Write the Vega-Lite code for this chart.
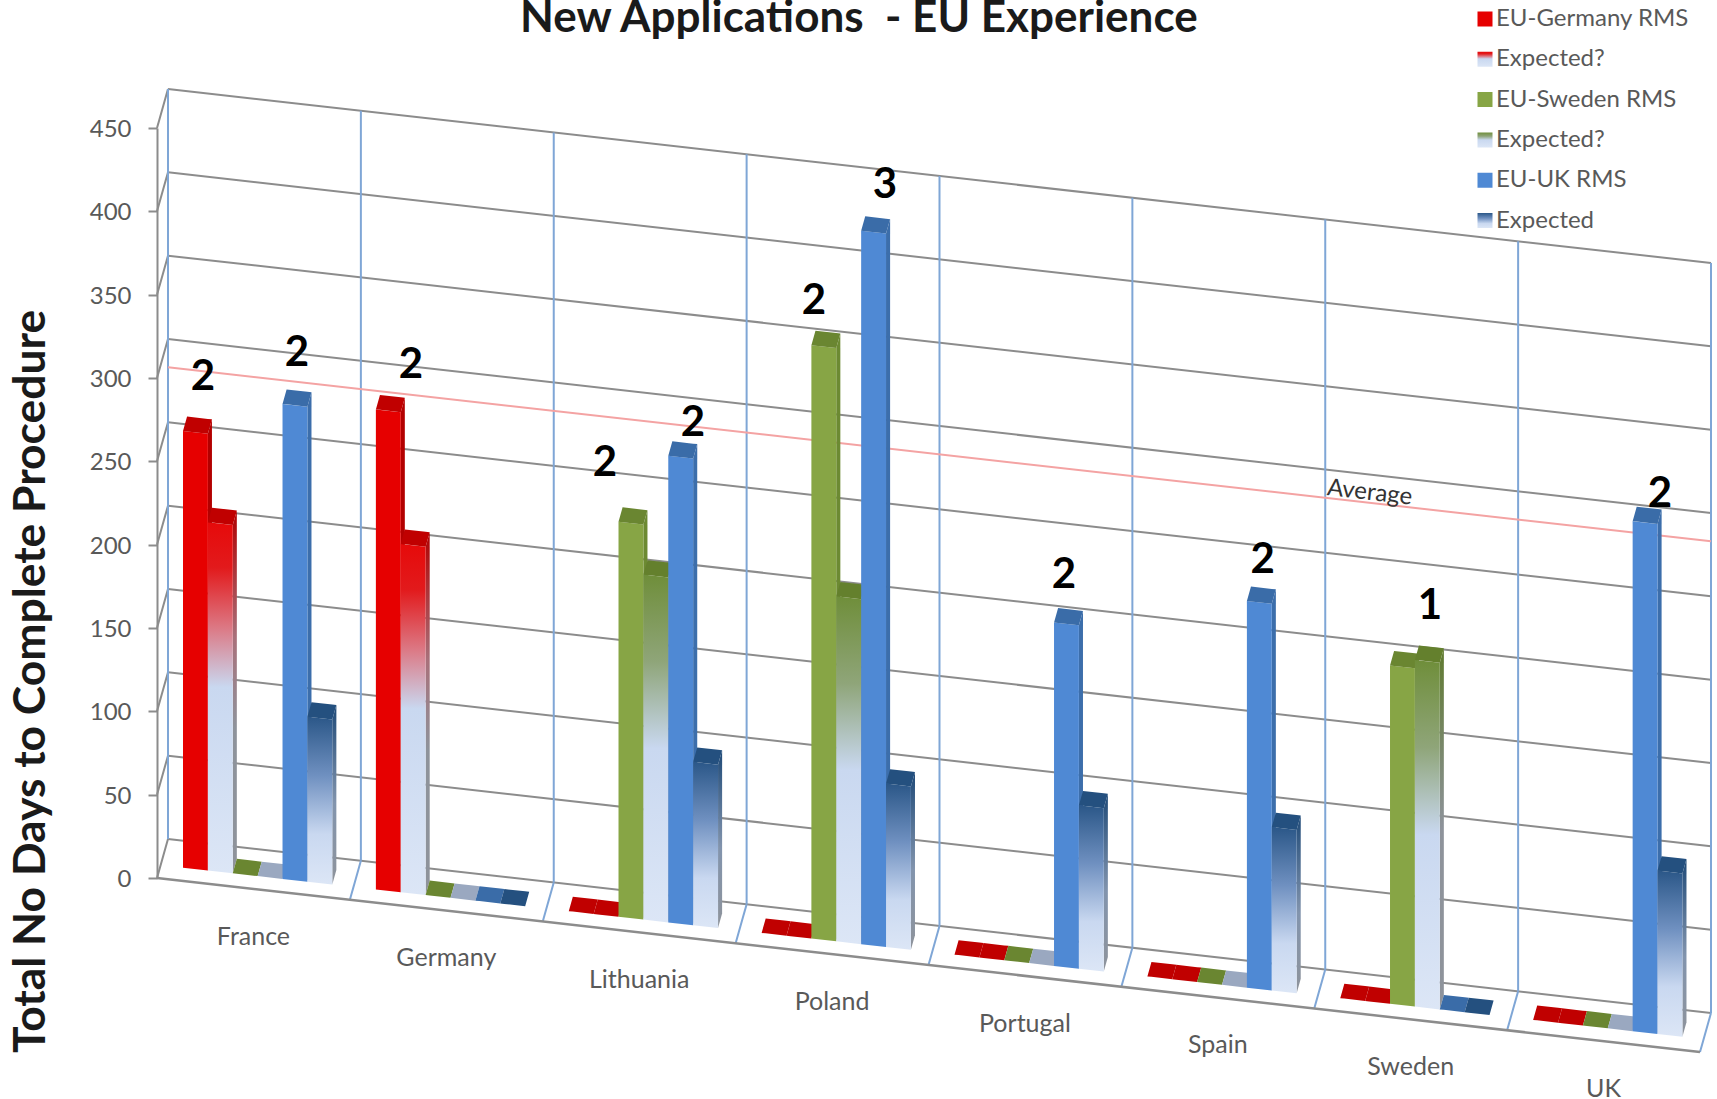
{
  "$schema": "https://vega.github.io/schema/vega-lite/v6.json",
  "autosize": {"type": "none"},
  "padding": {"left": 157, "top": 0, "right": 0, "bottom": 0},
  "width": 1560,
  "height": 1099,
  "background": "white",
  "title": {
    "text": "New Applications\u00a0 - EU Experience",
    "anchor": "start",
    "frame": "group",
    "dx": 363,
    "offset": -41,
    "font": "Lato",
    "fontWeight": "bold",
    "fontSize": 44,
    "color": "#1a1a1a"
  },
  "config": {
    "view": {"stroke": null},
    "text": {"font": "Lato"}
  },
  "datasets": {
    "levels": [
      {"days": 0}, {"days": 50}, {"days": 100}, {"days": 150}, {"days": 200},
      {"days": 250}, {"days": 300}, {"days": 350}, {"days": 400}, {"days": 450}
    ],
    "dividers": [
      {"n": 0}, {"n": 1}, {"n": 2}, {"n": 3}, {"n": 4}, {"n": 5}, {"n": 6}, {"n": 7}, {"n": 8}
    ],
    "bars": [
      {"country": "France", "series": "EU-Germany RMS", "value": 262},
      {"country": "Germany", "series": "EU-Germany RMS", "value": 288},
      {"country": "Lithuania", "series": "EU-Germany RMS", "value": 0},
      {"country": "Poland", "series": "EU-Germany RMS", "value": 0},
      {"country": "Portugal", "series": "EU-Germany RMS", "value": 0},
      {"country": "Spain", "series": "EU-Germany RMS", "value": 0},
      {"country": "Sweden", "series": "EU-Germany RMS", "value": 0},
      {"country": "UK", "series": "EU-Germany RMS", "value": 0},
      {"country": "France", "series": "Expected?", "value": 209},
      {"country": "Germany", "series": "Expected?", "value": 209},
      {"country": "Lithuania", "series": "Expected?", "value": 0},
      {"country": "Poland", "series": "Expected?", "value": 0},
      {"country": "Portugal", "series": "Expected?", "value": 0},
      {"country": "Spain", "series": "Expected?", "value": 0},
      {"country": "Sweden", "series": "Expected?", "value": 0},
      {"country": "UK", "series": "Expected?", "value": 0},
      {"country": "France", "series": "EU-Sweden RMS", "value": 0},
      {"country": "Germany", "series": "EU-Sweden RMS", "value": 0},
      {"country": "Lithuania", "series": "EU-Sweden RMS", "value": 237},
      {"country": "Poland", "series": "EU-Sweden RMS", "value": 356},
      {"country": "Portugal", "series": "EU-Sweden RMS", "value": 0},
      {"country": "Spain", "series": "EU-Sweden RMS", "value": 0},
      {"country": "Sweden", "series": "EU-Sweden RMS", "value": 203},
      {"country": "UK", "series": "EU-Sweden RMS", "value": 0},
      {"country": "France", "series": "Expected? ", "value": 0},
      {"country": "Germany", "series": "Expected? ", "value": 0},
      {"country": "Lithuania", "series": "Expected? ", "value": 207},
      {"country": "Poland", "series": "Expected? ", "value": 207},
      {"country": "Portugal", "series": "Expected? ", "value": 0},
      {"country": "Spain", "series": "Expected? ", "value": 0},
      {"country": "Sweden", "series": "Expected? ", "value": 208},
      {"country": "UK", "series": "Expected? ", "value": 0},
      {"country": "France", "series": "EU-UK RMS", "value": 285},
      {"country": "Germany", "series": "EU-UK RMS", "value": 0},
      {"country": "Lithuania", "series": "EU-UK RMS", "value": 280},
      {"country": "Poland", "series": "EU-UK RMS", "value": 428},
      {"country": "Portugal", "series": "EU-UK RMS", "value": 206},
      {"country": "Spain", "series": "EU-UK RMS", "value": 232},
      {"country": "Sweden", "series": "EU-UK RMS", "value": 0},
      {"country": "UK", "series": "EU-UK RMS", "value": 306},
      {"country": "France", "series": "Expected", "value": 99},
      {"country": "Germany", "series": "Expected", "value": 0},
      {"country": "Lithuania", "series": "Expected", "value": 98},
      {"country": "Poland", "series": "Expected", "value": 98},
      {"country": "Portugal", "series": "Expected", "value": 98},
      {"country": "Spain", "series": "Expected", "value": 98},
      {"country": "Sweden", "series": "Expected", "value": 0},
      {"country": "UK", "series": "Expected", "value": 98}
    ],
    "counts": [
      {"country": "France", "along": 0.238, "days": 303.7, "count": 2},
      {"country": "France", "along": 0.726, "days": 324.4, "count": 2},
      {"country": "Germany", "along": 0.317, "days": 325, "count": 2},
      {"country": "Lithuania", "along": 0.322, "days": 279.2, "count": 2},
      {"country": "Lithuania", "along": 0.779, "days": 309.2, "count": 2},
      {"country": "Poland", "along": 0.406, "days": 390.6, "count": 2},
      {"country": "Poland", "along": 0.774, "days": 465, "count": 3},
      {"country": "Portugal", "along": 0.702, "days": 243.1, "count": 2},
      {"country": "Spain", "along": 0.733, "days": 265.6, "count": 2},
      {"country": "Sweden", "along": 0.6, "days": 249.3, "count": 1},
      {"country": "UK", "along": 0.792, "days": 332, "count": 2}
    ],
    "countries": [
      {"country": "France"}, {"country": "Germany"}, {"country": "Lithuania"}, {"country": "Poland"},
      {"country": "Portugal"}, {"country": "Spain"}, {"country": "Sweden"}, {"country": "UK"}
    ],
    "average": [
      {"label": "Average", "days": 283, "along": 6.23, "labelDays": 289}
    ]
  },
  "layer": [
    {
      "data": {"name": "levels"},
      "transform": [
        {"calculate": "0.05703", "as": "xa"},
        {"calculate": "8.05703", "as": "xb"},
        {"calculate": "datum.days + 23.4", "as": "ya"},
        {"calculate": "datum.days + 23.4 - 104.4", "as": "yb"}
      ],
      "mark": {"type": "rule", "color": "#8c8c8c", "strokeWidth": 2},
      "encoding": {
        "x": {"field": "xa", "type": "quantitative", "scale": {"domain": [0, 8], "range": [0, 1543]}, "axis": null},
        "x2": {"field": "xb"},
        "y": {
          "field": "ya",
          "type": "quantitative",
          "scale": {"domain": [0, 450], "range": [878, 128]},
          "axis": {
            "values": [0, 50, 100, 150, 200, 250, 300, 350, 400, 450],
            "grid": false,
            "domain": true,
            "domainColor": "#8c8c8c",
            "domainWidth": 2,
            "ticks": true,
            "tickColor": "#8c8c8c",
            "tickWidth": 2,
            "tickSize": 9,
            "labelFont": "Lato",
            "labelFontSize": 24,
            "labelColor": "#595959",
            "labelPadding": 17,
            "labelOffset": 1.5,
            "title": "Total No Days to Complete Procedure",
            "titleFont": "Lato",
            "titleFontWeight": "bold",
            "titleFontSize": 44.4,
            "titleColor": "#1a1a1a",
            "titleX": -126,
            "titleY": 681,
            "titleAngle": -90,
            "titleAlign": "center",
            "titleBaseline": "middle"
          }
        },
        "y2": {"field": "yb"}
      }
    },
    {
      "data": {"name": "levels"},
      "transform": [
        {"calculate": "0", "as": "xa"},
        {"calculate": "0.05703", "as": "xb"},
        {"calculate": "datum.days + 23.4", "as": "yb"}
      ],
      "mark": {"type": "rule", "color": "#8c8c8c", "strokeWidth": 2},
      "encoding": {
        "x": {"field": "xa", "type": "quantitative"},
        "x2": {"field": "xb"},
        "y": {"field": "days", "type": "quantitative"},
        "y2": {"field": "yb"}
      }
    },
    {
      "data": {"name": "dividers"},
      "transform": [
        {"calculate": "datum.n + 0.05703", "as": "xa"},
        {"calculate": "23.4 - 13.05 * datum.n", "as": "ya"},
        {"calculate": "473.4 - 13.05 * datum.n", "as": "yb"}
      ],
      "mark": {"type": "rule", "color": "#7fa6d6", "strokeWidth": 2},
      "encoding": {
        "x": {"field": "xa", "type": "quantitative"},
        "x2": {"field": "xa"},
        "y": {"field": "ya", "type": "quantitative"},
        "y2": {"field": "yb"}
      }
    },
    {
      "data": {"name": "dividers"},
      "transform": [
        {"filter": "datum.n > 0"},
        {"calculate": "datum.n + 0.05703", "as": "xb"},
        {"calculate": "-13.05 * datum.n", "as": "ya"},
        {"calculate": "23.4 - 13.05 * datum.n", "as": "yb"}
      ],
      "mark": {"type": "rule", "color": "#7fa6d6", "strokeWidth": 2},
      "encoding": {
        "x": {"field": "n", "type": "quantitative"},
        "x2": {"field": "xb"},
        "y": {"field": "ya", "type": "quantitative"},
        "y2": {"field": "yb"}
      }
    },
    {
      "data": {"name": "levels"},
      "transform": [
        {"filter": "datum.days === 0"},
        {"calculate": "8", "as": "xb"},
        {"calculate": "-104.4", "as": "yb"}
      ],
      "mark": {"type": "rule", "color": "#8c8c8c", "strokeWidth": 2.5},
      "encoding": {
        "x": {"field": "days", "type": "quantitative"},
        "x2": {"field": "xb"},
        "y": {"field": "days", "type": "quantitative"},
        "y2": {"field": "yb"}
      }
    },
    {
      "data": {"name": "average"},
      "transform": [
        {"calculate": "0.05703", "as": "xa"},
        {"calculate": "8.05703", "as": "xb"},
        {"calculate": "datum.days + 23.4", "as": "ya"},
        {"calculate": "datum.days + 23.4 - 104.4", "as": "yb"}
      ],
      "mark": {"type": "rule", "color": "#f4a3a3", "strokeWidth": 2},
      "encoding": {
        "x": {"field": "xa", "type": "quantitative"},
        "x2": {"field": "xb"},
        "y": {"field": "ya", "type": "quantitative"},
        "y2": {"field": "yb"}
      }
    },
    {
      "data": {"name": "bars"},
      "transform": [
        {"calculate": "indexof(['France','Germany','Lithuania','Poland','Portugal','Spain','Sweden','UK'], datum.country)", "as": "c"},
        {"calculate": "indexof(['EU-Germany RMS','Expected?','EU-Sweden RMS','Expected? ','EU-UK RMS','Expected'], datum.series)", "as": "s"},
        {"calculate": "datum.c + 0.116 + 0.129 * datum.s", "as": "left"},
        {"calculate": "[['side',1,0.33,1,0.33,0],['side',1,0.7,1,0.7,0],['front',0,0.33,0,0.33,0],['front',1,0.33,1,0.33,0],['cap',0,0.33,0,0.33,1],['cap',0,0.7,0.1636,0.33,1],['cap',0.8364,0.7,1,0.33,1],['cap',1,0.7,1,0.7,1]]", "as": "v"},
        {"flatten": ["v"]},
        {"calculate": "datum.left + 0.129 * datum.v[1] + 0.05703 * datum.v[2]", "as": "px"},
        {"calculate": "datum.value - 13.05 * (datum.left + 0.129 * datum.v[1]) + 23.4 * datum.v[2]", "as": "top"},
        {"calculate": "(datum.v[5] ? datum.value : 0) - 13.05 * (datum.left + 0.129 * datum.v[3]) + 23.4 * datum.v[4]", "as": "bottom"},
        {"calculate": "datum.country + '/' + datum.series + '/' + datum.v[0]", "as": "face"},
        {"calculate": "datum.v[0] === 'front' ? datum.series : (datum.v[0] === 'cap' && datum.series === 'Expected? ' && datum.value === 0 ? 'floor' : datum.series + '|' + datum.v[0])", "as": "paint"}
      ],
      "mark": {"type": "area", "interpolate": "linear", "clip": false},
      "encoding": {
        "x": {"field": "px", "type": "quantitative"},
        "y": {"field": "top", "type": "quantitative", "stack": null},
        "y2": {"field": "bottom"},
        "detail": {"field": "face"},
        "color": {
          "field": "paint",
          "type": "nominal",
          "scale": {
            "domain": [
              "EU-Germany RMS", "Expected?", "EU-Sweden RMS", "Expected? ", "EU-UK RMS", "Expected",
              "EU-Germany RMS|side", "Expected?|side", "EU-Sweden RMS|side", "Expected? |side", "EU-UK RMS|side", "Expected|side",
              "EU-Germany RMS|cap", "Expected?|cap", "EU-Sweden RMS|cap", "Expected? |cap", "EU-UK RMS|cap", "Expected|cap",
              "floor"
            ],
            "range": [
              "#e60000",
              {"expr": "{gradient:'linear',x1:0,y1:0,x2:0,y2:1,stops:[{offset:0,color:'#e60a0a'},{offset:0.13,color:'#e21a1c'},{offset:0.3,color:'#dc7884'},{offset:0.47,color:'#c9d8f0'},{offset:1,color:'#dce6f6'}]}"},
              "#87a545",
              {"expr": "{gradient:'linear',x1:0,y1:0,x2:0,y2:1,stops:[{offset:0,color:'#6f8e3a'},{offset:0.25,color:'#8fa579'},{offset:0.5,color:'#c9d8f0'},{offset:1,color:'#dce6f6'}]}"},
              "#4f89d4",
              {"expr": "{gradient:'linear',x1:0,y1:0,x2:0,y2:1,stops:[{offset:0,color:'#2b5788'},{offset:0.35,color:'#6f90c0'},{offset:0.7,color:'#c9d8f0'},{offset:1,color:'#dce6f6'}]}"},
              "#b30000",
              {"expr": "{gradient:'linear',x1:0,y1:0,x2:0,y2:1,stops:[{offset:0,color:'#b00000'},{offset:0.35,color:'#a8707a'},{offset:0.6,color:'#8e939b'},{offset:1,color:'#8e939b'}]}"},
              "#6c8a32",
              {"expr": "{gradient:'linear',x1:0,y1:0,x2:0,y2:1,stops:[{offset:0,color:'#5f7a2e'},{offset:0.5,color:'#8e939b'},{offset:1,color:'#8e939b'}]}"},
              "#3c6eab",
              {"expr": "{gradient:'linear',x1:0,y1:0,x2:0,y2:1,stops:[{offset:0,color:'#1f4a78'},{offset:0.55,color:'#8294ad'},{offset:1,color:'#8e939b'}]}"},
              "#c00000", "#c00000", "#6a8631", "#64802d", "#3a6ca8", "#24507f",
              "#9aa8c0"
            ]
          },
          "legend": {
            "values": ["EU-Germany RMS", "Expected?", "EU-Sweden RMS", "Expected? ", "EU-UK RMS", "Expected"],
            "title": null,
            "orient": "none",
            "legendX": 1316,
            "legendY": 8,
            "symbolType": "square",
            "symbolSize": 225,
            "symbolOpacity": 1,
            "symbolStrokeWidth": 0,
            "labelFont": "Lato",
            "labelFontSize": 24,
            "labelColor": "#595959",
            "labelOffset": -1,
            "labelLimit": 260,
            "clipHeight": 22,
            "rowPadding": 16.3
          }
        }
      }
    },
    {
      "data": {"name": "counts"},
      "transform": [
        {"calculate": "indexof(['France','Germany','Lithuania','Poland','Portugal','Spain','Sweden','UK'], datum.country) + datum.along", "as": "u"},
        {"calculate": "datum.days - 13.05 * datum.u", "as": "level"}
      ],
      "mark": {"type": "text", "font": "Lato", "fontWeight": "bold", "fontSize": 42, "color": "#000000", "baseline": "middle", "align": "center"},
      "encoding": {
        "x": {"field": "u", "type": "quantitative"},
        "y": {"field": "level", "type": "quantitative"},
        "text": {"field": "count", "type": "quantitative"}
      }
    },
    {
      "data": {"name": "countries"},
      "transform": [
        {"calculate": "indexof(['France','Germany','Lithuania','Poland','Portugal','Spain','Sweden','UK'], datum.country) + 0.5", "as": "u"},
        {"calculate": "-28.6 - 13.05 * datum.u", "as": "level"}
      ],
      "mark": {"type": "text", "font": "Lato", "fontSize": 25, "color": "#595959", "baseline": "middle", "align": "center"},
      "encoding": {
        "x": {"field": "u", "type": "quantitative"},
        "y": {"field": "level", "type": "quantitative"},
        "text": {"field": "country", "type": "nominal"}
      }
    },
    {
      "data": {"name": "average"},
      "transform": [
        {"calculate": "datum.along + 0.05703", "as": "u"},
        {"calculate": "datum.labelDays + 23.4 - 13.05 * datum.along", "as": "level"}
      ],
      "mark": {"type": "text", "font": "Lato", "fontSize": 24, "color": "#333333", "baseline": "middle", "align": "center", "angle": 6.4},
      "encoding": {
        "x": {"field": "u", "type": "quantitative"},
        "y": {"field": "level", "type": "quantitative"},
        "text": {"field": "label", "type": "nominal"}
      }
    }
  ]
}
